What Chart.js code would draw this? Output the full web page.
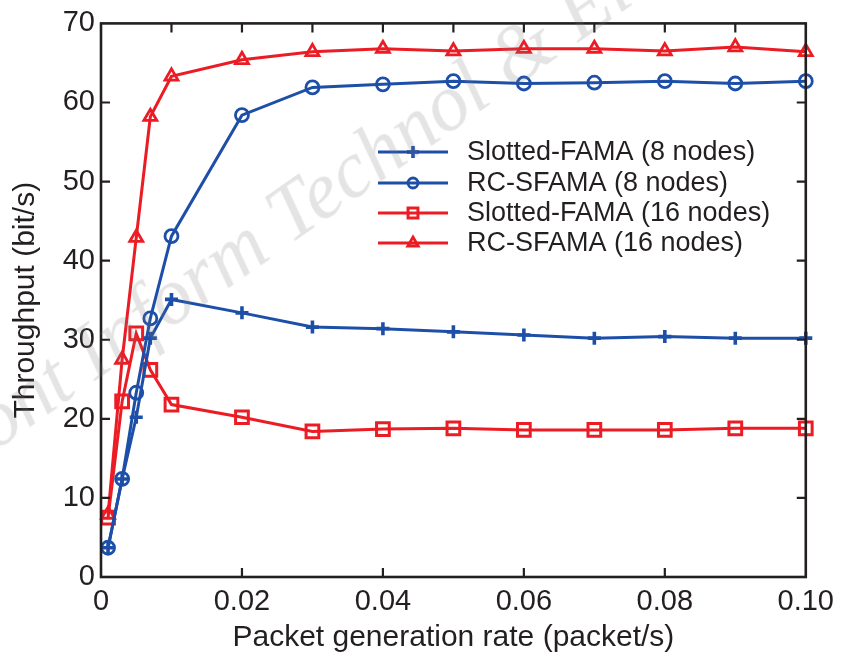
<!DOCTYPE html>
<html>
<head>
<meta charset="utf-8">
<script src="https://cdn.jsdelivr.net/npm/chart.js@4/dist/chart.umd.min.js"></script>
<style>
  html, body { margin: 0; padding: 0; background: #fff; }
  #wrap { position: relative; width: 842px; height: 656px; overflow: hidden; background: #fff; }
  #c { position: absolute; left: 0; top: 0; }
  #wm { position: absolute; left: -64px; top: 422px; height: 80px; line-height: 80px;
        font: italic 80px "Liberation Serif", "DejaVu Serif", serif; color: rgba(120,120,120,0.2);
        white-space: nowrap; transform-origin: 0 100%; transform: rotate(-35deg); pointer-events: none; }
</style>
</head>
<body>
<div id="wrap">
  <canvas id="c" width="842" height="656"></canvas>
  <div id="wm">Front Inform Technol &amp; Electron Eng</div>
</div>
<script>
// ---- data ----
const xValues = [0.001, 0.003, 0.005, 0.007, 0.01, 0.02, 0.03, 0.04, 0.05, 0.06, 0.07, 0.08, 0.09, 0.1];
const slottedFama8 = [3.7, 12.4, 20.2, 30.2, 35.1, 33.4, 31.6, 31.4, 31.0, 30.6, 30.2, 30.4, 30.2, 30.2];
const rcSfama8     = [3.7, 12.4, 23.3, 32.7, 43.1, 58.4, 61.9, 62.3, 62.7, 62.4, 62.5, 62.7, 62.4, 62.7];
const slottedFama16 = [7.5, 22.2, 30.8, 26.2, 21.8, 20.2, 18.4, 18.7, 18.8, 18.6, 18.6, 18.6, 18.8, 18.8];
const rcSfama16    = [7.9, 27.5, 42.9, 58.2, 63.3, 65.4, 66.4, 66.8, 66.5, 66.8, 66.8, 66.5, 67.0, 66.4];
const seriesLabels = ['Slotted-FAMA (8 nodes)', 'RC-SFAMA (8 nodes)', 'Slotted-FAMA (16 nodes)', 'RC-SFAMA (16 nodes)'];
const xTickLabels = ['0', '0.02', '0.04', '0.06', '0.08', '0.10'];
const yTickLabels = ['0', '10', '20', '30', '40', '50', '60', '70'];
const xTitle = 'Packet generation rate (packet/s)';
const yTitle = 'Throughput (bit/s)';

const BLUE = '#1e4fa8';
const RED = '#ec1c24';
const INK = '#231f20';

function pts(arr) { return xValues.map((x, i) => ({ x: x, y: arr[i] })); }

const styles = [
  { color: BLUE, pointStyle: 'cross', radius: 6.5, pw: 3.6, lr: 6 },
  { color: BLUE, pointStyle: 'circle', radius: 6.5, pw: 2.8, lr: 5 },
  { color: RED, pointStyle: 'rect', radius: 9, pw: 3, lr: 7 },
  { color: RED, pointStyle: 'triangle', radius: 7.5, pw: 2.8, lr: 6 }
];
const seriesData = [slottedFama8, rcSfama8, slottedFama16, rcSfama16];

const datasets = seriesData.map((arr, i) => ({
  label: seriesLabels[i],
  data: pts(arr),
  borderColor: styles[i].color,
  backgroundColor: '#fff',
  borderWidth: 3,
  pointStyle: styles[i].pointStyle,
  pointRadius: styles[i].radius,
  pointBorderWidth: styles[i].pw,
  pointBackgroundColor: 'rgba(255,255,255,0)',
  pointBorderColor: styles[i].color,
  tension: 0,
  clip: false
}));

// frame + inward ticks, drawn from the scales
const framePlugin = {
  id: 'frame',
  afterDatasetsDraw(chart) {
    const { ctx, chartArea: a, scales: { x, y } } = chart;
    ctx.save();
    ctx.strokeStyle = INK;
    ctx.lineWidth = 2.6;
    ctx.lineCap = 'square';
    ctx.strokeRect(a.left, a.top, a.right - a.left, a.bottom - a.top);
    ctx.lineWidth = 2.2;
    ctx.lineCap = 'butt';
    const L = 9;
    ctx.beginPath();
    for (let k = 1; k < 10; k++) {
      const px = x.getPixelForValue(k * 0.01);
      ctx.moveTo(px, a.top); ctx.lineTo(px, a.top + L);
      if (k % 2 === 0) { ctx.moveTo(px, a.bottom); ctx.lineTo(px, a.bottom - L); }
    }
    for (let k = 1; k < 7; k++) {
      const py = y.getPixelForValue(k * 10);
      ctx.moveTo(a.left, py); ctx.lineTo(a.left + L, py);
      ctx.moveTo(a.right, py); ctx.lineTo(a.right - L, py);
    }
    ctx.stroke();
    ctx.restore();
  }
};

// legend inside plot
const legendPlugin = {
  id: 'inLegend',
  afterDraw(chart) {
    const ctx = chart.ctx;
    ctx.save();
    const x0 = 378, x1 = 448, tx = 467;
    const rows = [152, 183, 213, 243];
    chart.data.datasets.forEach((ds, i) => {
      const yy = rows[i];
      ctx.strokeStyle = ds.borderColor;
      ctx.lineWidth = 3;
      ctx.beginPath(); ctx.moveTo(x0, yy); ctx.lineTo(x1, yy); ctx.stroke();
      ctx.fillStyle = 'rgba(255,255,255,0)';
      ctx.lineWidth = styles[i].pw;
      Chart.helpers.drawPoint(ctx, { pointStyle: ds.pointStyle, radius: styles[i].lr, borderWidth: styles[i].pw, rotation: 0 }, (x0 + x1) / 2, yy);
      ctx.fillStyle = INK;
      ctx.font = '27px "Liberation Sans", Arial, sans-serif';
      ctx.textBaseline = 'middle';
      ctx.textAlign = 'left';
      ctx.fillText(ds.label, tx, yy + 1);
    });
    ctx.restore();
  }
};

const tickFont = { family: '"Liberation Sans", Arial, sans-serif', size: 29 };
const titleFont = { family: '"Liberation Sans", Arial, sans-serif', size: 30 };

new Chart(document.getElementById('c'), {
  type: 'line',
  data: { datasets: datasets },
  options: {
    responsive: false,
    animation: false,
    devicePixelRatio: 1,
    layout: { padding: { left: 0, right: 34, top: 19, bottom: 0 } },
    plugins: { legend: { display: false }, tooltip: { enabled: false } },
    scales: {
      x: {
        type: 'linear', min: 0, max: 0.1,
        grid: { display: false, drawTicks: false },
        border: { display: false },
        ticks: {
          stepSize: 0.02, color: INK, font: tickFont, padding: 8, maxRotation: 0,
          callback: (v) => xTickLabels[Math.round(v / 0.02)]
        },
        title: { display: true, text: xTitle, color: INK, font: titleFont, padding: { top: 0, bottom: 0 } },
        afterFit(s) { s.height = 79; }
      },
      y: {
        type: 'linear', min: 0, max: 70,
        grid: { display: false, drawTicks: false },
        border: { display: false },
        ticks: {
          stepSize: 10, color: INK, font: tickFont, padding: 6,
          callback: (v) => yTickLabels[Math.round(v / 10)]
        },
        title: { display: true, text: yTitle, color: INK, font: titleFont, padding: { top: 8, bottom: 0 } },
        afterFit(s) { s.width = 101; }
      }
    }
  },
  plugins: [framePlugin, legendPlugin]
});
</script>
</body>
</html>
